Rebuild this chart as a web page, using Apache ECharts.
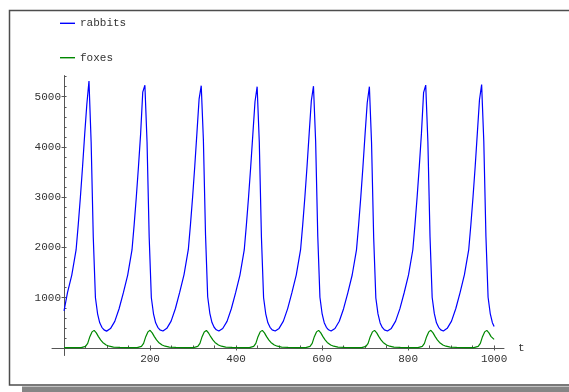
<!DOCTYPE html>
<html>
<head>
<meta charset="utf-8">
<script src="https://cdn.jsdelivr.net/npm/echarts@6/dist/echarts.min.js"></script>
<style>
html,body{margin:0;padding:0;background:#fff;}
#chart{width:569px;height:392px;}
</style>
</head>
<body>
<div id="chart"></div>
<script>
const seriesNames = ['rabbits', 'foxes'];
const xTickLabels = [200, 400, 600, 800, 1000];
const yTickLabels = [1000, 2000, 3000, 4000, 5000];
const xMinorTicks = [50,100,150,200,250,300,350,400,450,500,550,600,650,700,750,800,850,900,950,1000];
const yMinorTicks = [200,400,600,800,1000,1200,1400,1600,1800,2000,2200,2400,2600,2800,3000,3200,3400,3600,3800,4000,4200,4400,4600,4800,5000,5200,5400];

const rabbitT = [
0, 8, 18, 28, 33, 38, 43, 48, 53, 58, 63, 68, 73, 78, 83, 88, 93,
99, 108, 118, 128, 138, 148, 158, 163, 168, 173, 178, 183, 188, 193, 198, 203, 208, 213, 218, 223,
230, 239, 249, 259, 269, 279, 289, 294, 299, 304, 309, 314, 319, 324, 329, 334, 339, 344, 349, 354,
360, 369, 379, 389, 399, 409, 419, 424, 429, 434, 439, 444, 449, 454, 459, 464, 469, 474, 479, 484,
491, 500, 510, 520, 530, 540, 550, 555, 560, 565, 570, 575, 580, 585, 590, 595, 600, 605, 610, 615,
621, 630, 640, 650, 660, 670, 680, 685, 690, 695, 700, 705, 710, 715, 720, 725, 730, 735, 740, 745,
752, 761, 771, 781, 791, 801, 811, 816, 821, 826, 831, 836, 841, 846, 851, 856, 861, 866, 871, 876,
882, 891, 901, 911, 921, 931, 941, 946, 951, 956, 961, 966, 971, 976, 981, 986, 991, 996, 1000];

const rabbits = [
740, 1100, 1450, 1950, 2450, 3000, 3600, 4250, 4850, 5310, 4100, 2200, 1000, 680, 500, 410, 360,
335, 385, 530, 780, 1100, 1450, 1950, 2450, 3000, 3600, 4250, 5090, 5230, 4100, 2200, 1000, 680, 500, 410, 360,
338, 390, 535, 785, 1110, 1460, 1960, 2460, 3010, 3620, 4280, 4950, 5220, 4150, 2250, 1020, 690, 505, 412, 362,
336, 388, 530, 780, 1100, 1450, 1950, 2450, 3000, 3600, 4250, 4900, 5200, 4100, 2200, 1000, 680, 500, 410, 360,
337, 389, 533, 783, 1105, 1455, 1955, 2455, 3005, 3610, 4270, 4920, 5210, 4120, 2220, 1010, 685, 503, 411, 361,
336, 387, 531, 781, 1102, 1452, 1952, 2452, 3002, 3605, 4260, 4880, 5200, 4090, 2190, 995, 678, 499, 409, 359,
337, 389, 533, 782, 1104, 1454, 1954, 2454, 3004, 3608, 4265, 5080, 5230, 4110, 2210, 1005, 682, 501, 410, 360,
338, 390, 535, 785, 1108, 1458, 1958, 2458, 3008, 3612, 4275, 4940, 5240, 4120, 2220, 1010, 685, 502, 425];

const foxT = [
0, 20, 40, 50, 55, 60, 65, 70, 75, 80, 85, 90, 98, 105, 115, 130, 150,
170, 180, 185, 190, 195, 200, 205, 210, 215, 220, 228, 235, 245, 260, 280,
301, 311, 316, 321, 326, 331, 336, 341, 346, 351, 359, 366, 376, 391, 411,
431, 441, 446, 451, 456, 461, 466, 471, 476, 481, 489, 496, 506, 521, 541,
562, 572, 577, 582, 587, 592, 597, 602, 607, 612, 620, 627, 637, 652, 672,
692, 702, 707, 712, 717, 722, 727, 732, 737, 742, 750, 757, 767, 782, 802,
823, 833, 838, 843, 848, 853, 858, 863, 868, 873, 881, 888, 898, 913, 933,
953, 963, 968, 973, 978, 983, 988, 993, 1000];

const foxes = [
6, 6, 8, 30, 90, 225, 320, 350, 300, 225, 160, 110, 60, 35, 18, 10, 7,
8, 30, 90, 225, 320, 352, 300, 225, 160, 110, 60, 35, 18, 10, 7,
8, 30, 90, 225, 318, 348, 298, 224, 160, 110, 60, 35, 18, 10, 7,
8, 30, 90, 225, 320, 350, 300, 225, 160, 110, 60, 35, 18, 10, 7,
8, 30, 90, 225, 320, 350, 300, 225, 160, 110, 60, 35, 18, 10, 7,
8, 30, 90, 225, 320, 350, 300, 225, 160, 110, 60, 35, 18, 10, 7,
8, 30, 90, 225, 320, 352, 300, 225, 160, 110, 60, 35, 18, 10, 7,
8, 30, 90, 225, 320, 350, 300, 225, 170];

const rabbitData = rabbitT.map((t, i) => [t, rabbits[i]]);
const foxData = foxT.map((t, i) => [t, foxes[i]]);

const FONT = "'Liberation Mono', 'DejaVu Sans Mono', monospace";
const AX = '#555555';
const TXT = '#333333';
const gridBox = { left: 52, top: 75.6, width: 452, height: 279.9 };
const plain = v => String(v);

const chart = echarts.init(document.getElementById('chart'), null, { renderer: 'canvas' });
chart.setOption({
  animation: false,
  backgroundColor: '#ffffff',
  graphic: [
    { type: 'rect', z: -10, shape: { x: 22, y: 386.5, width: 600, height: 12 }, style: { fill: '#858585' }, silent: true },
    { type: 'rect', z: -9, shape: { x: 9.5, y: 10.5, width: 600, height: 374.5 }, style: { fill: '#ffffff', stroke: '#4d4d4d', lineWidth: 1.5 }, silent: true }
  ],
  legend: {
    data: seriesNames,
    orient: 'vertical',
    left: 60,
    top: 16.3,
    padding: 0,
    itemGap: 20.4,
    itemWidth: 15,
    itemHeight: 1.4,
    icon: 'rect',
    textStyle: { fontFamily: FONT, fontSize: 11, color: TXT, lineHeight: 14 }
  },
  grid: [
    Object.assign({}, gridBox),
    Object.assign({}, gridBox)
  ],
  xAxis: [
    {
      type: 'value', gridIndex: 0, min: -28, max: 1023,
      name: 't', nameLocation: 'end', nameGap: 14,
      nameTextStyle: { fontFamily: FONT, fontSize: 11, color: TXT },
      axisLine: { onZero: true, lineStyle: { color: AX, width: 1 } },
      axisTick: { show: true, inside: false, length: 2.5, customValues: xTickLabels, lineStyle: { color: AX } },
      axisLabel: { customValues: xTickLabels, formatter: plain, margin: -1.5, fontFamily: FONT, fontSize: 11, color: TXT },
      splitLine: { show: false }
    },
    {
      type: 'value', gridIndex: 1, min: -28, max: 1023,
      axisLine: { show: false, onZero: true },
      axisTick: { show: true, inside: true, length: 2.5, customValues: xMinorTicks, lineStyle: { color: AX } },
      axisLabel: { show: false },
      splitLine: { show: false }
    }
  ],
  yAxis: [
    {
      type: 'value', gridIndex: 0, min: -150, max: 5420,
      axisLine: { show: true, onZero: true, lineStyle: { color: AX, width: 1 } },
      axisTick: { show: true, inside: false, length: 2.5, customValues: yTickLabels, lineStyle: { color: AX } },
      axisLabel: { customValues: yTickLabels, formatter: plain, margin: -9, fontFamily: FONT, fontSize: 11, color: TXT },
      splitLine: { show: false }
    },
    {
      type: 'value', gridIndex: 1, min: -150, max: 5420,
      axisLine: { show: false, onZero: true },
      axisTick: { show: true, inside: true, length: 2.5, customValues: yMinorTicks, lineStyle: { color: AX } },
      axisLabel: { show: false },
      splitLine: { show: false }
    }
  ],
  series: [
    {
      name: seriesNames[0], type: 'line', xAxisIndex: 0, yAxisIndex: 0,
      data: rabbitData, showSymbol: false, symbol: 'none', smooth: false,
      lineStyle: { color: '#0000ff', width: 1.2 }, itemStyle: { color: '#0000ff' }, z: 3
    },
    {
      name: seriesNames[1], type: 'line', xAxisIndex: 0, yAxisIndex: 0,
      data: foxData, showSymbol: false, symbol: 'none', smooth: false,
      lineStyle: { color: '#008800', width: 1.2 }, itemStyle: { color: '#008800' }, z: 3
    }
  ]
});
</script>
</body>
</html>
